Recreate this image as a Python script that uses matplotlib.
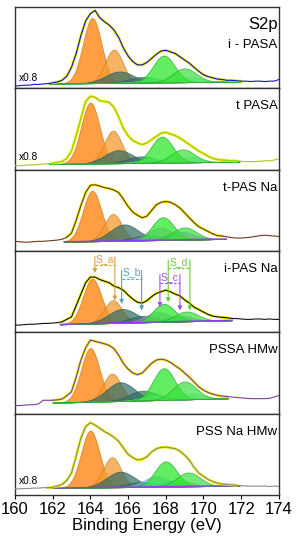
import numpy as np
import matplotlib
matplotlib.use('Agg')
import matplotlib.pyplot as plt

plt.rcParams['font.family'] = ['Liberation Sans', 'DejaVu Sans']

# measured spectra, 0.25 eV step from 160 to 174 eV (normalised per panel)
energy = np.arange(160, 174.001, 0.25)

panel_names = ['i - PASA', 't PASA', 't-PAS Na', 'i-PAS Na', 'PSSA HMw', 'PSS Na HMw']
data_colors = ['#1414c8', '#a4c81a', '#6b3b1f', '#111111', '#7b3fa2', '#8a8a8a']
scaled = [True, True, False, False, False, True]

exp_ipasa = [0.03, 0.035, 0.04, 0.04, 0.05, 0.05, 0.055, 0.06, 0.07, 0.08, 0.10, 0.15,
             0.26, 0.43, 0.65, 0.83, 0.92, 0.96, 0.87, 0.82, 0.78, 0.72, 0.63, 0.50,
             0.40, 0.33, 0.29, 0.29, 0.32, 0.37, 0.42, 0.46, 0.47, 0.45, 0.43, 0.39,
             0.35, 0.31, 0.26, 0.21, 0.17, 0.145, 0.13, 0.115, 0.11, 0.10, 0.10, 0.095,
             0.09, 0.09, 0.085, 0.09, 0.09, 0.085, 0.09, 0.09, 0.11]
exp_tpasa = [0.05, 0.05, 0.055, 0.06, 0.06, 0.065, 0.07, 0.075, 0.08, 0.09, 0.10, 0.14,
             0.23, 0.42, 0.63, 0.84, 0.905, 0.89, 0.85, 0.84, 0.83, 0.77, 0.65, 0.51,
             0.42, 0.36, 0.33, 0.31, 0.33, 0.37, 0.41, 0.45, 0.46, 0.44, 0.42, 0.39,
             0.35, 0.31, 0.27, 0.23, 0.20, 0.165, 0.14, 0.125, 0.12, 0.115, 0.11, 0.11,
             0.105, 0.10, 0.10, 0.10, 0.105, 0.11, 0.11, 0.12, 0.135]
exp_tpasna = [0.12, 0.115, 0.11, 0.11, 0.115, 0.12, 0.12, 0.125, 0.13, 0.135, 0.145, 0.17,
              0.22, 0.38, 0.56, 0.72, 0.81, 0.815, 0.80, 0.78, 0.77, 0.75, 0.72, 0.64,
              0.55, 0.48, 0.44, 0.41, 0.43, 0.50, 0.57, 0.60, 0.61, 0.60, 0.57, 0.53,
              0.47, 0.41, 0.35, 0.30, 0.27, 0.24, 0.21, 0.19, 0.185, 0.175, 0.165, 0.16,
              0.16, 0.165, 0.17, 0.18, 0.19, 0.195, 0.19, 0.185, 0.18]
exp_ipasna = [0.09, 0.09, 0.095, 0.10, 0.10, 0.105, 0.11, 0.11, 0.115, 0.12, 0.13, 0.16,
              0.19, 0.33, 0.47, 0.61, 0.68, 0.68, 0.65, 0.63, 0.61, 0.57, 0.55, 0.52,
              0.46, 0.41, 0.37, 0.36, 0.39, 0.44, 0.48, 0.50, 0.52, 0.50, 0.47, 0.45,
              0.40, 0.36, 0.31, 0.28, 0.25, 0.22, 0.20, 0.19, 0.185, 0.18, 0.17, 0.17,
              0.165, 0.16, 0.16, 0.165, 0.165, 0.16, 0.165, 0.16, 0.16]
exp_pssa = [0.10, 0.10, 0.105, 0.11, 0.11, 0.12, 0.165, 0.165, 0.165, 0.17, 0.18, 0.22,
            0.27, 0.45, 0.66, 0.81, 0.905, 0.89, 0.875, 0.86, 0.84, 0.80, 0.72, 0.62,
            0.55, 0.50, 0.48, 0.50, 0.56, 0.62, 0.66, 0.67, 0.66, 0.63, 0.59, 0.55,
            0.50, 0.45, 0.39, 0.33, 0.29, 0.26, 0.24, 0.225, 0.215, 0.21, 0.205, 0.20,
            0.195, 0.19, 0.185, 0.185, 0.185, 0.185, 0.19, 0.205, 0.225]
exp_pssna = [0.075, 0.075, 0.08, 0.08, 0.085, 0.085, 0.09, 0.09, 0.095, 0.11, 0.13, 0.18,
             0.27, 0.48, 0.70, 0.84, 0.89, 0.86, 0.82, 0.78, 0.75, 0.71, 0.66, 0.58,
             0.50, 0.46, 0.43, 0.44, 0.47, 0.53, 0.57, 0.585, 0.59, 0.58, 0.57, 0.54,
             0.49, 0.43, 0.34, 0.27, 0.23, 0.19, 0.165, 0.145, 0.135, 0.13, 0.125, 0.12,
             0.115, 0.11, 0.11, 0.11, 0.11, 0.11, 0.105, 0.11, 0.105]
spectra = [exp_ipasa, exp_tpasa, exp_tpasna, exp_ipasna, exp_pssa, exp_pssna]

# fit window and linear background (start, end) per panel
fit_lo = [161.8, 161.8, 162.6, 162.4, 162.0, 161.7]
fit_hi = [172.0, 171.9, 171.2, 171.5, 171.3, 171.9]
bg_lo = [0.06, 0.07, 0.115, 0.10, 0.135, 0.085]
bg_hi = [0.085, 0.10, 0.15, 0.15, 0.19, 0.115]

# fitted components: S_a, S_a, S_b, S_b, S_c, S_c, S_d, S_d
peak_fwhm = [1.15, 1.1, 1.75, 1.75, 1.6, 1.6, 1.35, 1.45]
centers = [
    [164.1, 165.25, 165.55, 166.8, 167.4, 169.3, 167.9, 169.0],
    [164.0, 165.2, 165.5, 166.7, 167.3, 169.2, 167.8, 168.9],
    [164.1, 165.2, 165.8, 167.0, 167.7, 168.8, 167.85, 169.0],
    [164.1, 165.2, 165.7, 166.8, 167.6, 168.7, 167.9, 169.1],
    [164.0, 165.15, 165.6, 166.8, 167.4, 169.3, 167.9, 169.0],
    [164.0, 165.15, 165.6, 166.7, 167.5, 168.6, 168.0, 169.2],
]
heights = [
    [0.80, 0.41, 0.14, 0.07, 0.05, 0.06, 0.33, 0.17],
    [0.75, 0.40, 0.16, 0.08, 0.05, 0.07, 0.32, 0.16],
    [0.62, 0.33, 0.20, 0.06, 0.15, 0.10, 0.28, 0.15],
    [0.55, 0.28, 0.17, 0.08, 0.12, 0.07, 0.22, 0.12],
    [0.66, 0.34, 0.23, 0.12, 0.05, 0.07, 0.39, 0.22],
    [0.70, 0.37, 0.19, 0.06, 0.13, 0.08, 0.31, 0.17],
]
sc_colors = [('#9ceeee', '#9ceeee'), ('#9ceeee', '#9ceeee'), ('#b07ce8', '#b060e0'),
             ('#b080e0', '#7070f0'), ('#9ceeee', '#9ceeee'), ('#7fb2e5', '#d070e0')]

# markers in the i-PAS Na panel
bracket_labels = ['S_a', 'S_b', 'S_c', 'S_d']
bracket_left = [164.24, 165.66, 167.69, 168.13]
bracket_right = [165.3, 166.72, 168.75, 169.28]
bracket_level = [0.83, 0.66, 0.61, 0.79]
arrow_end_left = [0.73, 0.35, 0.31, 0.37]
arrow_end_right = [0.39, 0.27, 0.27, 0.27]
bracket_colors = ['#d9a040', '#5b9fb0', '#a050f0', '#6ccc3a']

fig, axes = plt.subplots(6, 1, sharex=True, figsize=(2.98, 5.5), dpi=100)
fig.subplots_adjust(left=0.05, right=0.936, top=0.987, bottom=0.1, hspace=0)

for i, ax in enumerate(axes):
    x = np.linspace(fit_lo[i], fit_hi[i], 400)
    base = bg_lo[i] + (bg_hi[i] - bg_lo[i]) * (x - fit_lo[i]) / (fit_hi[i] - fit_lo[i])
    face = ['#ff8614', '#f59a30', '#2f6b63', '#2f6b63',
            sc_colors[i][0], sc_colors[i][1], '#2ee82e', '#3ae03a']
    edge = ['#d07a10', '#c88020', '#2a5a55', '#2a5a55',
            sc_colors[i][0], sc_colors[i][1], '#22aa22', '#22aa22']
    alphas = [0.8, 0.75, 0.7, 0.65, 0.6, 0.6, 0.75, 0.7]
    for k in range(8):
        g = heights[i][k] * np.exp(-4 * np.log(2) * (x - centers[i][k]) ** 2 / peak_fwhm[k] ** 2)
        ax.fill_between(x, base, base + g, facecolor=face[k], edgecolor=edge[k],
                        alpha=alphas[k], lw=0.6, zorder=2)
    if i in (2, 3, 5):
        ax.plot(x, base, color='#9933ff', lw=0.9, zorder=2.5)

    y = np.array(spectra[i])
    m = (energy >= fit_lo[i] - 0.01) & (energy <= fit_hi[i] + 0.01)
    ax.plot(energy[m], y[m], color='#ecec00', lw=1.9, zorder=3)
    ax.plot(energy, y, color=data_colors[i], lw=0.8, zorder=4)

    ax.set_xlim(160, 174)
    ax.set_ylim(0, 1)
    ax.set_yticks([])
    for s in ax.spines.values():
        s.set_color('#333333')
        s.set_linewidth(1.0)
    ax.text(0.995, 0.78 if i else 0.54, panel_names[i], transform=ax.transAxes,
            ha='right', va='center', fontsize=9.5)
    if scaled[i]:
        ax.text(160.2, [0.13, 0.16, 0, 0, 0, 0.17][i], 'x0.8', fontsize=7.3, va='center')
    if i < 5:
        ax.tick_params(axis='x', bottom=False, labelbottom=False)

axes[0].text(0.995, 0.79, 'S2p', transform=axes[0].transAxes, ha='right', va='center',
             fontsize=12)

ax4 = axes[3]
for j in range(4):
    c = bracket_colors[j]
    lv = bracket_level[j]
    ax4.plot([bracket_left[j], bracket_right[j]], [lv, lv], ls=(0, (2.5, 1.5)), color=c,
             lw=0.8, zorder=5)
    for xx, ye in ((bracket_left[j], arrow_end_left[j]), (bracket_right[j], arrow_end_right[j])):
        ax4.annotate('', xy=(xx, ye), xytext=(xx, lv + 0.1),
                     arrowprops=dict(arrowstyle='-|>', color=c, lw=0.8, mutation_scale=6,
                                     shrinkA=0, shrinkB=0), zorder=5)
    ax4.text((bracket_left[j] + bracket_right[j]) / 2, lv + 0.075, bracket_labels[j],
             color=c, fontsize=7.5, ha='center', va='center', zorder=6)

axes[-1].set_xticks(range(160, 175, 2))
axes[-1].tick_params(axis='x', direction='out', length=3, labelsize=12, pad=2)
axes[-1].set_xlabel('Binding Energy (eV)', fontsize=12, labelpad=1)

fig.savefig('out.png', dpi=100)
